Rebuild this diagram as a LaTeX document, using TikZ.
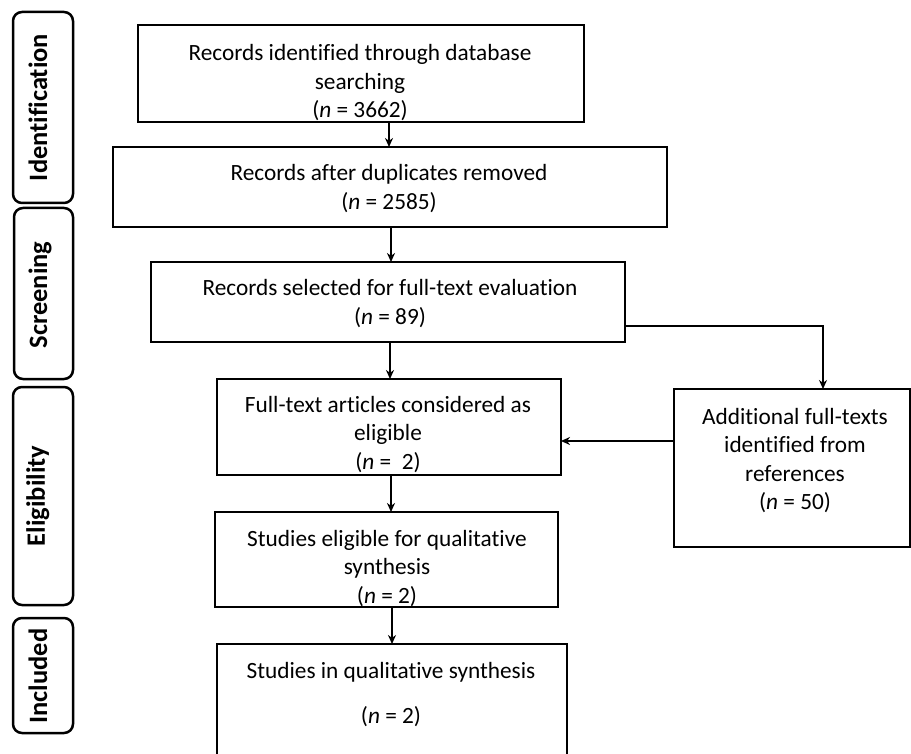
\documentclass[tikz,border=0pt]{standalone}
\usepackage{fontspec}
\setmainfont{Carlito}[Ligatures=NoCommon]
\usetikzlibrary{arrows.meta,calc}
\begin{document}
\begin{tikzpicture}[x=1pt,y=-1pt,
  box/.style={draw, line width=2.5pt, rectangle, inner sep=0pt, outer sep=0pt},
  stagebox/.style={draw, line width=2.5pt, rounded corners=9pt, inner sep=0pt, outer sep=0pt},
  txt/.style={align=center, font=\fontsize{23.3}{28.5}\selectfont, inner sep=0pt},
  stxt/.style={rotate=90, anchor=base, font=\fontsize{26.5}{28}\selectfont\bfseries, inner sep=0pt},
  arr/.style={line width=2pt, -{Stealth[length=9pt,width=8pt]}}]
\useasboundingbox (0,0) rectangle (911,754);

% stage boxes
\node[stagebox, minimum width=60pt, minimum height=191pt] (s1) at (43,107.5) {};
\node[stagebox, minimum width=59pt, minimum height=171pt] (s2) at (43.5,293.5) {};
\node[stagebox, minimum width=60pt, minimum height=218pt] (s3) at (43,496) {};
\node[stagebox, minimum width=60pt, minimum height=115pt] (s4) at (43,675.5) {};
\node[stxt] (l1) at (47,107.5) {Identification};
\node[stxt] (l2) at (47,295) {Screening};
\node[stxt] (l3) at (45,496) {Eligibility};
\node[stxt] (l4) at (47,676) {Included};

% main boxes
\node[box, minimum width=446pt, minimum height=97pt] (b1) at (361,73.5) {};
\node[box, minimum width=554pt, minimum height=80pt] (b2) at (390,187) {};
\node[box, minimum width=474pt, minimum height=80pt] (b3) at (388,302) {};
\node[box, minimum width=344pt, minimum height=96pt] (b4) at (389,427) {};
\node[box, minimum width=343pt, minimum height=95pt] (b5) at (386.5,559.5) {};
\node[box, minimum width=350pt, minimum height=156pt] (b6) at (392,722) {};
\node[box, minimum width=236pt, minimum height=158pt] (b7) at (792,468) {};

% texts
\node[txt] (t1) at (360,83) {Records identified through database\\searching\\(\textit{n} = 3662)};
\node[txt] (t2) at (389,188.5) {Records after duplicates removed\\(\textit{n} = 2585)};
\node[txt] (t3) at (390,303.5) {Records selected for full-text evaluation\\(\textit{n} = 89)};
\node[txt] (t4) at (388,434.5) {Full-text articles considered as\\eligible\\(\textit{n} =~~2)};
\node[txt] (t5) at (387,568.5) {Studies eligible for qualitative\\synthesis\\(\textit{n} = 2)};
\node[txt] (t6) at (391,695) {Studies in qualitative synthesis\\[16.5pt](\textit{n} = 2)};
\node[txt] (t7) at (795,460.5) {Additional full-texts\\identified from\\references\\(\textit{n} = 50)};

% connectors
\draw[arr] ([xshift=28pt]b1.south) -- ([xshift=28pt]b1.south |- b2.north);
\draw[arr] ([xshift=1pt]b2.south) -- ([xshift=1pt]b2.south |- b3.north);
\draw[arr] ([xshift=2pt]b3.south) -- ([xshift=2pt]b3.south |- b4.north);
\draw[arr] ([xshift=2pt]b4.south) -- ([xshift=2pt]b4.south |- b5.north);
\draw[arr] ([xshift=5.5pt]b5.south) -- ([xshift=5.5pt]b5.south |- b6.north);
\draw[arr] ([yshift=-24pt]b3.east) -| ([xshift=31pt]b7.north);
\draw[arr] ([yshift=27pt]b7.west) -- ([yshift=27pt]b7.west -| b4.east);
\end{tikzpicture}
\end{document}
